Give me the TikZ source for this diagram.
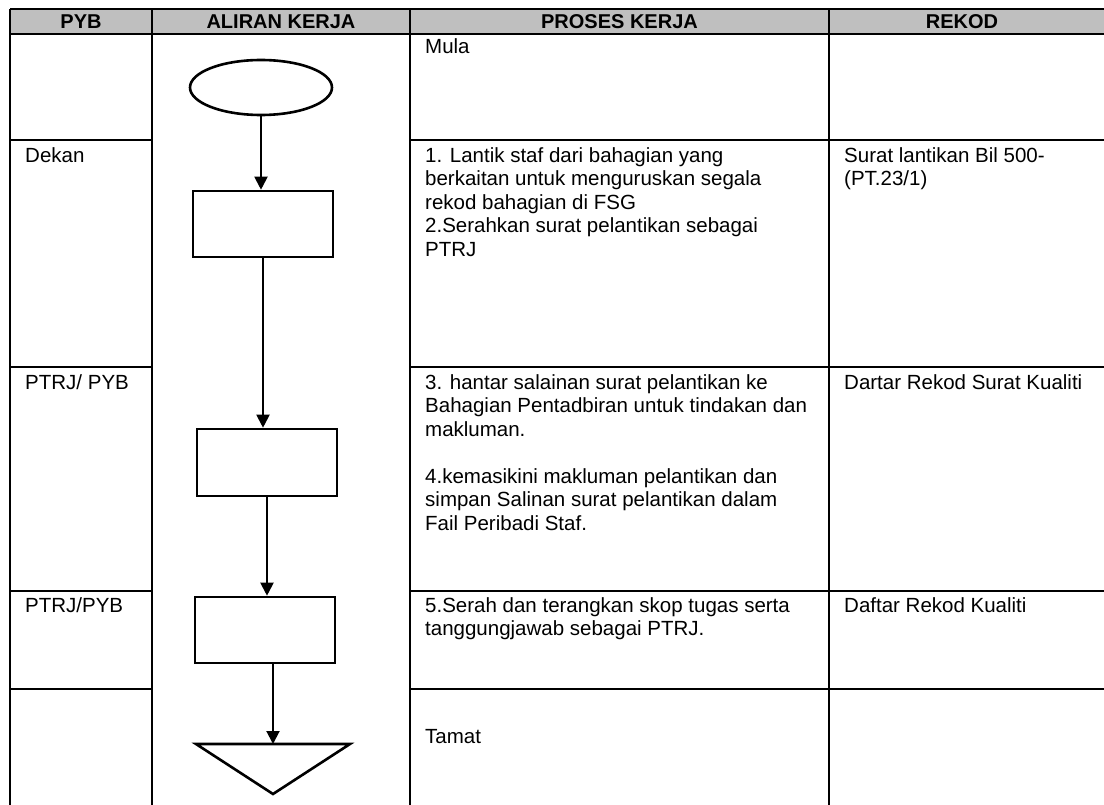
\documentclass[tikz,border=0pt]{standalone}
\usepackage{fontspec}
\setmainfont{Liberation Sans}
\usetikzlibrary{arrows.meta,shapes.geometric}
\begin{document}
\begin{tikzpicture}[x=1pt,y=-1pt,
  rule/.style={line width=1.8pt},
  hdr/.style={font=\fontsize{20}{22}\selectfont\bfseries, anchor=base, inner sep=0},
  txt/.style={font=\fontsize{20.5}{23.5}\selectfont, anchor=north west, inner sep=0, align=left},
  flowbox/.style={draw, line width=2.6pt, minimum width=140pt, minimum height=66pt, inner sep=0},
  term/.style={draw, ellipse, line width=2.6pt, minimum width=142pt, minimum height=55pt, inner sep=0},
  arr/.style={line width=2pt, -{Triangle[length=13pt,width=13pt]}}]
\useasboundingbox (0,0) rectangle (1104,805);
% header band
\fill[black!25] (10,9) rectangle (1104,34);
\draw[rule] (10,9) -- (1104,9);
\draw[rule] (10,34) -- (1104,34);
% vertical rules
\foreach \x in {10,152,410,829} \draw[rule] (\x,9) -- (\x,805);
% row rules (not across the flow column)
\foreach \y in {140,367,591,689} {
  \draw[rule] (10,\y) -- (152,\y);
  \draw[rule] (410,\y) -- (1104,\y);
}
% header texts
\node[hdr] (hpyb) at (81,28.5) {PYB};
\node[hdr] (halir) at (281,28.5) {ALIRAN KERJA};
\node[hdr] (hproses) at (619.5,28.5) {PROSES KERJA};
\node[hdr] (hrekod) at (962,28.5) {REKOD};
% column 1
\node[txt] (p1) at (25,145.5) {\strut Dekan};
\node[txt] (p2) at (25,372.5) {\strut PTRJ/ PYB};
\node[txt] (p3) at (25,595.5) {\strut PTRJ/PYB};
% column 3
\node[txt] (k0) at (425,36.5) {\strut Mula};
\node[txt] (k1) at (425,145.5) {\strut 1. Lantik staf dari bahagian yang\\
berkaitan untuk menguruskan segala\\
rekod bahagian di FSG\\
2.Serahkan surat pelantikan sebagai\\
PTRJ};
\node[txt] (k2) at (425,372.5) {\strut 3. hantar salainan surat pelantikan ke\\
Bahagian Pentadbiran untuk tindakan dan\\
makluman.\\[23.5pt]
4.kemasikini makluman pelantikan dan\\
simpan Salinan surat pelantikan dalam\\
Fail Peribadi Staf.};
\node[txt] (k3) at (425,595.5) {\strut 5.Serah dan terangkan skop tugas serta\\
tanggungjawab sebagai PTRJ.};
\node[txt] (k4) at (425,726.5) {\strut Tamat};
% column 4
\node[txt] (r1) at (844,145.5) {\strut Surat lantikan Bil 500-\\(PT.23/1)};
\node[txt] (r2) at (844,372.5) {\strut Dartar Rekod Surat Kualiti};
\node[txt] (r3) at (844,595.5) {\strut Daftar Rekod Kualiti};
% flow chart
\node[term] (e1) at (261,87.5) {};
\node[flowbox] (b1) at (263,224) {};
\node[flowbox, minimum height=67pt] (b2) at (267,462.5) {};
\node[flowbox] (b3) at (265,630) {};
\coordinate (tl) at (196,744);
\coordinate (tr) at (350,744);
\coordinate (tb) at (273,794);
\coordinate (ttop) at (273,744);
\draw[line width=2.6pt, line join=miter] (tl) -- (tr) -- (tb) -- cycle;
% connectors
\draw[arr] (e1.south) -- (e1.south |- b1.north);
\draw[arr] (b1.south) -- (b1.south |- b2.north);
\draw[arr] (b2.south) -- (b2.south |- b3.north);
\draw[arr] (b3.south -| ttop) -- (ttop);
\end{tikzpicture}
\end{document}
